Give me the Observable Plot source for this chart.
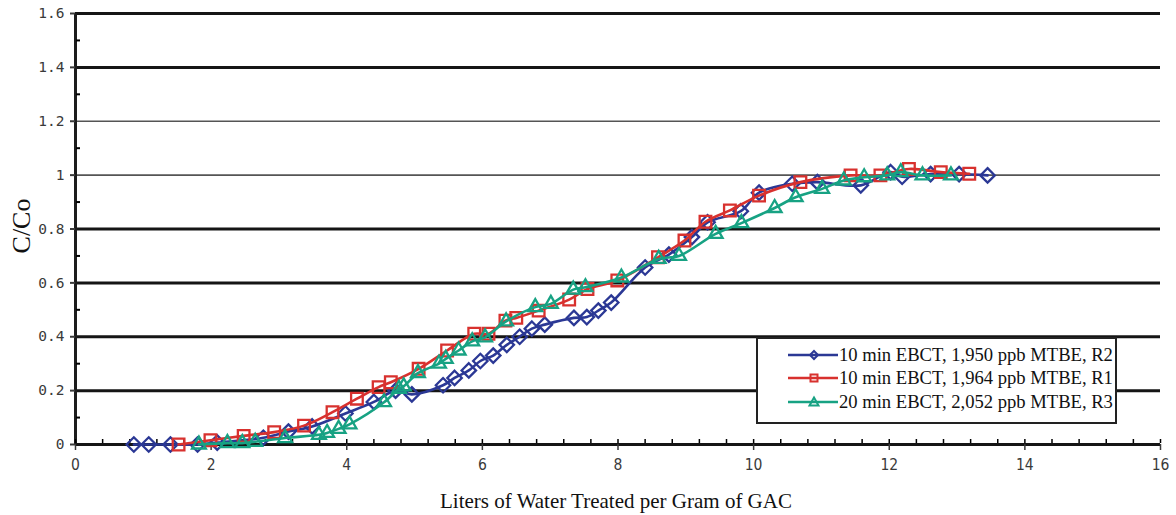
<!DOCTYPE html>
<html>
<head>
<meta charset="utf-8">
<script src="https://cdn.jsdelivr.net/npm/d3@7"></script>
<script src="https://cdn.jsdelivr.net/npm/@observablehq/plot@0.6"></script>
<style>
  html, body { margin: 0; padding: 0; background: #fff; }
  #chart { position: relative; width: 1176px; height: 515px; }
  #legend {
    position: absolute; left: 756px; top: 337px; width: 357px; height: 79px;
    border: 2px solid #222; background: #fff; box-sizing: content-box;
    font-family: "Liberation Serif", "Times New Roman", serif; font-size: 18.6px; color: #111;
    padding-top: 4px;
  }
  .row { display: flex; align-items: center; height: 23.5px; margin-left: 30px; }
  .row svg { flex: none; }
  .row span { white-space: nowrap; margin-left: 1px; }
</style>
</head>
<body>
<div id="chart"></div>
<script>
// Liters of water treated per gram of GAC (x) and C/Co (y) for each column run
const r2X = [0.86, 1.08, 1.40, 1.80, 2.09, 2.77, 3.14, 3.49, 3.98, 4.40, 4.72, 4.96, 5.42, 5.59, 5.80, 5.97, 6.16, 6.36, 6.55, 6.73, 6.92, 7.35, 7.54, 7.71, 7.90, 8.40, 8.75, 9.09, 9.32, 9.81, 10.08, 10.57, 10.94, 11.58, 12.02, 12.19, 12.61, 13.03, 13.45];
const r2Y = [0, 0, 0, 0, 0.007, 0.025, 0.048, 0.067, 0.115, 0.158, 0.200, 0.186, 0.220, 0.247, 0.275, 0.310, 0.330, 0.370, 0.400, 0.430, 0.445, 0.470, 0.473, 0.497, 0.527, 0.657, 0.705, 0.770, 0.825, 0.866, 0.935, 0.968, 0.974, 0.962, 1.011, 0.994, 1.004, 1.004, 0.999];

const r1X = [1.52, 1.99, 2.48, 2.93, 3.37, 3.79, 4.15, 4.47, 4.65, 5.06, 5.48, 5.88, 6.09, 6.34, 6.50, 6.83, 7.28, 7.55, 7.99, 8.59, 8.98, 9.29, 9.65, 10.08, 10.69, 11.43, 11.87, 12.29, 12.76, 13.18];
const r1Y = [0, 0.016, 0.032, 0.046, 0.070, 0.120, 0.170, 0.213, 0.231, 0.281, 0.349, 0.411, 0.411, 0.460, 0.470, 0.497, 0.538, 0.577, 0.609, 0.695, 0.757, 0.827, 0.869, 0.924, 0.974, 0.999, 0.999, 1.023, 1.011, 1.005];

const r3X = [1.82, 2.24, 2.46, 2.65, 3.09, 3.59, 3.71, 3.88, 4.04, 4.55, 4.77, 4.84, 5.05, 5.36, 5.46, 5.65, 5.85, 6.04, 6.35, 6.78, 7.01, 7.34, 7.52, 8.05, 8.60, 8.90, 9.44, 9.82, 10.31, 10.62, 11.01, 11.33, 11.63, 11.97, 12.17, 12.49, 12.91];
const r3Y = [0, 0.005, 0.005, 0.010, 0.024, 0.036, 0.043, 0.058, 0.075, 0.157, 0.207, 0.216, 0.265, 0.300, 0.318, 0.349, 0.383, 0.398, 0.457, 0.510, 0.522, 0.575, 0.584, 0.620, 0.689, 0.700, 0.782, 0.822, 0.878, 0.918, 0.949, 0.980, 0.992, 0.999, 1.011, 0.999, 0.999];

const seriesNames = [
  "10 min EBCT, 1,950 ppb MTBE, R2",
  "10 min EBCT, 1,964 ppb MTBE, R1",
  "20 min EBCT, 2,052 ppb MTBE, R3"
];
const seriesColors = ["#2b3895", "#d8312e", "#17a283"];
const seriesSymbols = ["diamond2", "square2", "triangle2"];
const symbolRadius = [6.5, 7.4, 6.6];

const yMajorTicks = [0, 0.2, 0.4, 0.6, 0.8, 1, 1.2, 1.4, 1.6];
const yTickLabels = ["0", "0.2", "0.4", "0.6", "0.8", "1", "1.2", "1.4", "1.6"];
const yLightGrid = [1, 1.2];
const xMajorTicks = [0, 2, 4, 6, 8, 10, 12, 14, 16];
const xTickLabels = ["0", "2", "4", "6", "8", "10", "12", "14", "16"];

const xTitle = "Liters of Water Treated per Gram of GAC";
const yTitle = "C/Co";

// Tables built from the arrays above
const runs = [[r2X, r2Y], [r1X, r1Y], [r3X, r3Y]].map(([xs, ys], i) =>
  xs.map((x, j) => ({x, y: ys[j], run: seriesNames[i]}))
);
const yMinorTicks = d3.range(1, 16, 2).map(k => k / 10);
const xMinorTicks = d3.range(0, 41).map(k => k * 0.4);
const yDarkGrid = yMajorTicks.filter(v => !yLightGrid.includes(v));

const monoFont = "'DejaVu Sans Mono', 'Liberation Mono', monospace";
const narrowFont = "'Liberation Sans Narrow', 'DejaVu Sans Condensed', sans-serif";
const serifFont = "'Liberation Serif', 'Times New Roman', serif";

const seriesMarks = runs.flatMap((rows, i) => [
  Plot.line(rows, {x: "x", y: "y", stroke: seriesColors[i], strokeWidth: 2.6, curve: "catmull-rom"}),
  Plot.dot(rows, {x: "x", y: "y", symbol: seriesSymbols[i], r: symbolRadius[i], stroke: seriesColors[i], strokeWidth: 2.3, fill: "none"})
]);

const chart = Plot.plot({
  width: 1176,
  height: 515,
  marginLeft: 75,
  marginRight: 16,
  marginTop: 13,
  marginBottom: 71,
  style: {background: "#fff", overflow: "visible"},
  x: {domain: [0, 16]},
  y: {domain: [0, 1.6]},
  marks: [
    Plot.ruleY(yLightGrid, {stroke: "#555", strokeWidth: 1.6}),
    Plot.ruleY(yDarkGrid, {stroke: "#151515", strokeWidth: 3}),
    Plot.ruleX([0], {stroke: "#1c1c1c", strokeWidth: 3}),
    Plot.axisY({ticks: yMajorTicks, tickSize: 5, tickPadding: 6, strokeWidth: 2,
      tickFormat: (d, i) => yTickLabels[i], fontFamily: monoFont, fontSize: 14.5, color: "#3a3a3a", label: null}),
    Plot.axisY({ticks: yMinorTicks, tickSize: 4, dx: 5, strokeWidth: 2, tickFormat: () => "", label: null}),
    Plot.axisX({ticks: xMajorTicks, tickSize: 6, tickPadding: 8, strokeWidth: 1.5,
      tickFormat: (d, i) => xTickLabels[i], fontFamily: narrowFont, fontSize: 15.5, color: "#3a3a3a", label: null}),
    Plot.axisX({ticks: xMinorTicks, tickSize: 4, dy: -5, strokeWidth: 1.5, tickFormat: () => "", label: null}),
    ...seriesMarks,
    Plot.text([yTitle], {frameAnchor: "left", textAnchor: "middle", lineAnchor: "middle", rotate: -90, dx: -54, dy: -3,
      fontSize: 26, fontFamily: serifFont, fill: "#111"}),
    Plot.text([xTitle], {frameAnchor: "bottom", textAnchor: "middle", lineAnchor: "middle", dy: 57, dx: -2,
      fontSize: 21, fontFamily: serifFont, fill: "#111"})
  ]
});

const root = document.getElementById("chart");
root.appendChild(chart);

// Legend box drawn over the plot area
const legend = document.createElement("div");
legend.id = "legend";
const swatchPaths = {
  diamond2: "M26,4 L30,8 L26,12 L22,8 Z",
  square2: "M22.5,4.5 H29.5 V11.5 H22.5 Z",
  triangle2: "M26,3.5 L30.5,11.5 L21.5,11.5 Z"
};
seriesNames.forEach((name, i) => {
  const row = document.createElement("div");
  row.className = "row";
  row.innerHTML =
    `<svg width="50" height="16" viewBox="0 0 50 16">
       <line x1="0" y1="8" x2="50" y2="8" stroke="${seriesColors[i]}" stroke-width="2.6"/>
       <path d="${swatchPaths[seriesSymbols[i]]}" fill="none" stroke="${seriesColors[i]}" stroke-width="2"/>
     </svg><span>${name}</span>`;
  legend.appendChild(row);
});
root.appendChild(legend);
</script>
</body>
</html>
